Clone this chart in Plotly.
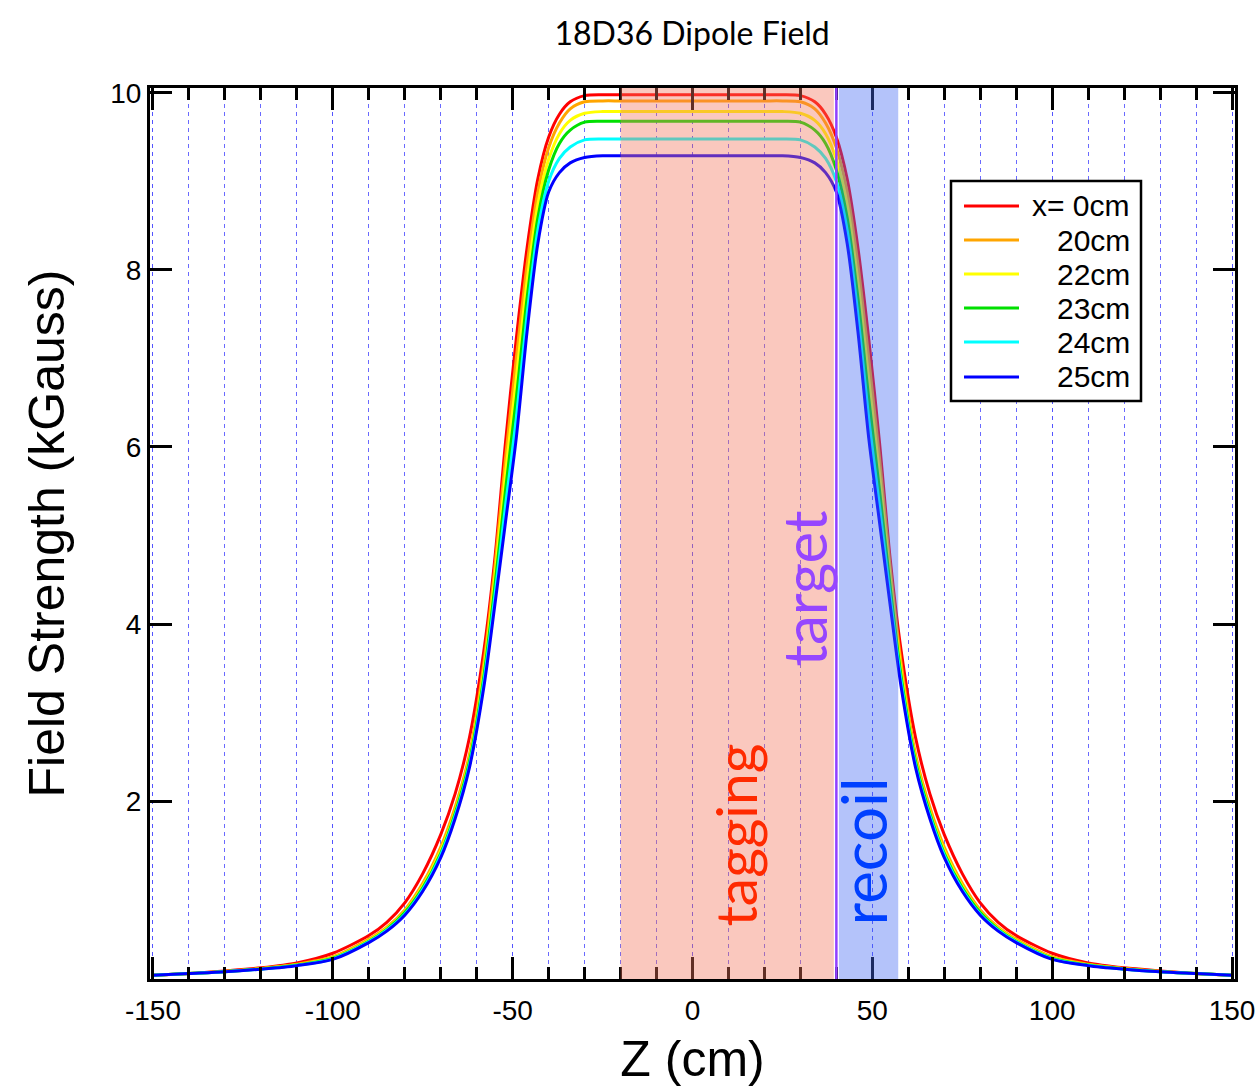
import plotly.graph_objects as go

# ---------------- data ----------------
z_cm = [-150, -140, -130, -120, -110, -100, -90, -85, -80, -75, -70, -66, -62, -58, -55, -52,
        -49, -46, -43, -40, -37, -34, -30, -25, -20, -10, 0, 10, 20, 25, 30, 34, 37, 40, 43,
        46, 49, 52, 55, 58, 62, 66, 70, 75, 80, 85, 90, 100, 110, 120, 130, 140, 150]

b_x0 = [0.03, 0.05, 0.08, 0.115, 0.17, 0.28, 0.48, 0.63, 0.85, 1.18, 1.62, 2.08, 2.72, 3.70, 4.72, 6.05,
        7.22, 8.25, 9.03, 9.50, 9.76, 9.90, 9.97, 9.98, 9.98, 9.98, 9.98, 9.98, 9.98, 9.98, 9.97, 9.90, 9.76, 9.50, 9.03,
        8.25, 7.22, 6.05, 4.72, 3.70, 2.72, 2.08, 1.62, 1.18, 0.85, 0.63, 0.48, 0.28, 0.17, 0.115, 0.08, 0.05, 0.03]

b_x20 = [0.03, 0.05, 0.075, 0.107, 0.155, 0.24, 0.44, 0.575, 0.77, 1.07, 1.48, 1.93, 2.53, 3.56, 4.62, 5.87,
         7.00, 8.06, 8.88, 9.38, 9.66, 9.82, 9.90, 9.91, 9.91, 9.91, 9.91, 9.91, 9.91, 9.91, 9.90, 9.82, 9.66, 9.38, 8.88,
         8.06, 7.00, 5.87, 4.62, 3.56, 2.53, 1.93, 1.48, 1.07, 0.77, 0.575, 0.44, 0.24, 0.155, 0.107, 0.075, 0.05, 0.03]

b_x22 = [0.03, 0.05, 0.073, 0.105, 0.149, 0.231, 0.424, 0.56, 0.75, 1.04, 1.44, 1.88, 2.48, 3.47, 4.51, 5.69,
         6.77, 7.87, 8.74, 9.25, 9.54, 9.69, 9.77, 9.79, 9.79, 9.79, 9.79, 9.79, 9.79, 9.79, 9.77, 9.69, 9.54, 9.25, 8.74,
         7.87, 6.77, 5.69, 4.51, 3.47, 2.48, 1.88, 1.44, 1.04, 0.75, 0.56, 0.424, 0.231, 0.149, 0.105, 0.073, 0.05, 0.03]

b_x23 = [0.03, 0.05, 0.072, 0.103, 0.146, 0.224, 0.416, 0.55, 0.74, 1.02, 1.41, 1.86, 2.45, 3.41, 4.41, 5.51,
         6.55, 7.68, 8.59, 9.13, 9.43, 9.58, 9.67, 9.68, 9.68, 9.68, 9.68, 9.68, 9.68, 9.68, 9.67, 9.58, 9.43, 9.13, 8.59,
         7.68, 6.55, 5.51, 4.41, 3.41, 2.45, 1.86, 1.41, 1.02, 0.74, 0.55, 0.416, 0.224, 0.146, 0.103, 0.072, 0.05, 0.03]

b_x24 = [0.03, 0.05, 0.071, 0.10, 0.143, 0.217, 0.408, 0.54, 0.72, 1.00, 1.39, 1.83, 2.41, 3.35, 4.30, 5.33,
         6.32, 7.49, 8.45, 9.00, 9.26, 9.39, 9.47, 9.48, 9.48, 9.48, 9.48, 9.48, 9.48, 9.48, 9.47, 9.39, 9.26, 9.00, 8.45,
         7.49, 6.32, 5.33, 4.30, 3.35, 2.41, 1.83, 1.39, 1.00, 0.72, 0.54, 0.408, 0.217, 0.143, 0.10, 0.071, 0.05, 0.03]

b_x25 = [0.03, 0.05, 0.07, 0.10, 0.14, 0.21, 0.40, 0.53, 0.71, 0.98, 1.36, 1.80, 2.38, 3.29, 4.20, 5.15,
         6.10, 7.30, 8.30, 8.88, 9.10, 9.21, 9.27, 9.29, 9.29, 9.29, 9.29, 9.29, 9.29, 9.29, 9.27, 9.21, 9.10, 8.88, 8.30,
         7.30, 6.10, 5.15, 4.20, 3.29, 2.38, 1.80, 1.36, 0.98, 0.71, 0.53, 0.40, 0.21, 0.14, 0.10, 0.07, 0.05, 0.03]

series_names = ["x= 0cm", "20cm", "22cm", "23cm", "24cm", "25cm"]
series_values = [b_x0, b_x20, b_x22, b_x23, b_x24, b_x25]
series_colors = ["#ff0000", "#ffa500", "#ffff00", "#00e000", "#00ffff", "#0000ff"]

x_ticks = [-150, -100, -50, 0, 50, 100, 150]
x_tick_text = ["-150", "-100", "-50", "0", "50", "100", "150"]
y_ticks = [2, 4, 6, 8, 10]
y_tick_text = ["2", "4", "6", "8", "10"]

tagging_zone = [-20, 39.3]
target_z = 40
recoil_zone = [40.7, 57.2]

# ---------------- figure ----------------
fig = go.Figure()
for name, vals, col in zip(series_names, series_values, series_colors):
    fig.add_trace(go.Scatter(x=z_cm, y=vals, mode="lines", name=name, showlegend=False,
                             line=dict(color=col, width=3, shape="spline", smoothing=0.8)))

sans = "Liberation Sans, Arial, sans-serif"
axis_font = dict(family=sans, size=28, color="black")
grid_col = "rgba(80,80,255,0.85)"

fig.update_xaxes(range=[-150.83, 150.83], tickvals=x_ticks, ticktext=x_tick_text, ticks="inside",
                 ticklen=22, tickwidth=2.5, tickcolor="black", showline=True, linewidth=3,
                 linecolor="black", mirror="allticks", showgrid=True, gridcolor=grid_col, gridwidth=1,
                 griddash="4px,4px", zeroline=False, tickfont=axis_font, ticklabeloverflow="allow",
                 ticklabelstandoff=4, automargin=False,
                 minor=dict(dtick=10, ticks="inside", ticklen=12, tickwidth=2.5, tickcolor="black",
                            showgrid=True, gridcolor=grid_col, gridwidth=1, griddash="4px,4px"),
                 title=dict(text="Z (cm)", font=dict(family=sans, size=50, color="black"), standoff=21))
fig.update_yaxes(range=[-0.011, 10.056], tickvals=y_ticks, ticktext=y_tick_text, ticks="inside",
                 ticklen=22, tickwidth=2.5, tickcolor="black", showline=True, linewidth=3,
                 linecolor="black", mirror="allticks", showgrid=False, zeroline=False,
                 tickfont=axis_font, ticklabeloverflow="allow", automargin=False,
                 title=dict(text="Field Strength (kGauss)", font=dict(family=sans, size=50, color="black"),
                            standoff=30))

# shaded regions (drawn over the curves, semi-transparent)
fig.add_shape(type="rect", xref="x", yref="paper", x0=tagging_zone[0], x1=tagging_zone[1], y0=0, y1=1,
              fillcolor="rgb(242,117,92)", opacity=0.4, line=dict(width=0), layer="above")
fig.add_shape(type="rect", xref="x", yref="paper", x0=recoil_zone[0], x1=recoil_zone[1], y0=0, y1=1,
              fillcolor="rgb(67,105,242)", opacity=0.4, line=dict(width=0), layer="above")
fig.add_shape(type="line", xref="x", yref="paper", x0=target_z, x1=target_z, y0=0, y1=1,
              line=dict(color="#9040ff", width=2.5), layer="above")

lbl_font = "Lato, Open Sans, sans-serif"
fig.add_annotation(x=11.8, y=1.62, text="tagging", textangle=-90, showarrow=False,
                   font=dict(family=lbl_font, size=57, color="#ff2a00"))
fig.add_annotation(x=31.0, y=4.40, text="target", textangle=-90, showarrow=False,
                   font=dict(family=lbl_font, size=60, color="#9646ff"))
fig.add_annotation(x=47.6, y=1.43, text="recoil", textangle=-90, showarrow=False,
                   font=dict(family=lbl_font, size=62, color="#0040ff"))

# ---------------- legend (boxed, right-aligned labels) ----------------
W, H, L, T = 1085.0, 891.0, 150.0, 88.0
def px_x(p):
    return (p - L) / W
def px_y(p):
    return (T + H - p) / H

fig.add_shape(type="rect", xref="paper", yref="paper", x0=px_x(951), x1=px_x(1141),
              y0=px_y(401), y1=px_y(181), fillcolor="white", line=dict(color="black", width=2.5),
              layer="above")
row_px = [206, 240, 274, 308, 342, 377]
for name, col, ry in zip(series_names, series_colors, row_px):
    fig.add_shape(type="line", xref="paper", yref="paper", x0=px_x(964), x1=px_x(1019),
                  y0=px_y(ry), y1=px_y(ry), line=dict(color=col, width=3), layer="above")
    fig.add_annotation(xref="paper", yref="paper", x=px_x(1132), y=px_y(ry), text=name,
                       xanchor="right", yanchor="middle", showarrow=False,
                       font=dict(family=sans, size=30, color="black"))

fig.update_layout(
    width=1255, height=1087,
    margin=dict(l=150, r=20, t=88, b=108, autoexpand=False),
    paper_bgcolor="white", plot_bgcolor="white",
    title=dict(text="18D36 Dipole Field", x=0.5515, xanchor="center", y=1 - 34 / 1087, yanchor="middle",
               font=dict(family="Lato, Open Sans, sans-serif", size=32, color="black")),
    showlegend=False,
)

fig.write_html("out.html")
